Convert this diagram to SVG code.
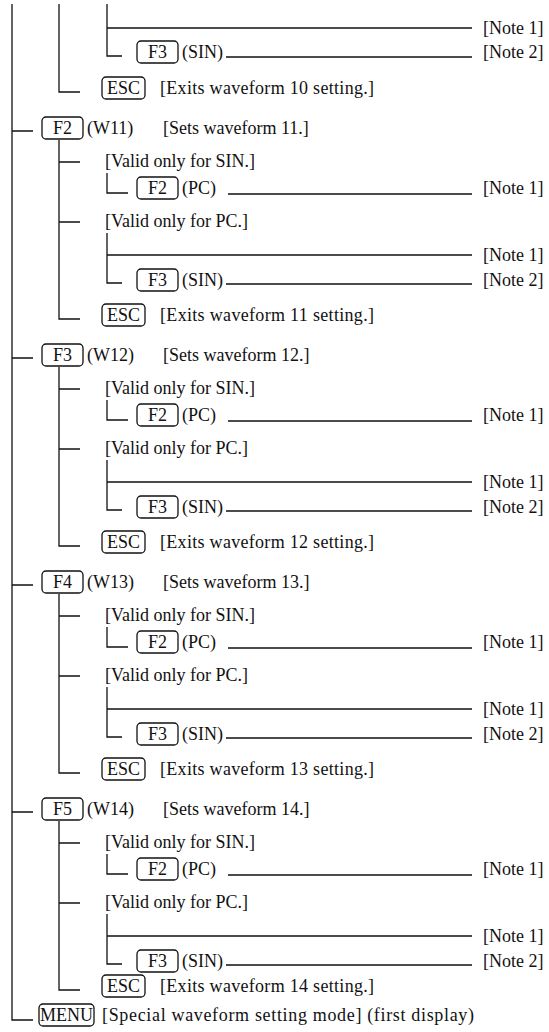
<svg xmlns="http://www.w3.org/2000/svg" width="549" height="1032" viewBox="0 0 549 1032">
<style>
.c{fill:none;stroke:#111;stroke-width:1.3}
.k{fill:#fff;stroke:#111;stroke-width:1.3}
text{font-family:"Liberation Serif","Times New Roman",serif;font-size:18px;fill:#111}
.m{text-anchor:middle}
</style>
<rect width="549" height="1032" fill="#fff"/>
<g id="connectors" class="c">
<path d="M12,4 V1020 H33"/>
<path d="M59,4 V92 H80"/>
<path d="M107,4 V56 H122 M107,28 H472 M226,57 H472"/>
<path d="M12,131 H33 M59,140 V319 H80 M59,162 H80 M59,222 H80 M107,173 V193 H128 M228,194 H472 M107,233 V283 H122 M107,255 H472 M226,284 H472"/>
<path d="M12,358 H33 M59,367 V546 H80 M59,389 H80 M59,449 H80 M107,400 V420 H128 M228,421 H472 M107,460 V510 H122 M107,482 H472 M226,511 H472"/>
<path d="M12,585 H33 M59,594 V773 H80 M59,616 H80 M59,676 H80 M107,627 V647 H128 M228,648 H472 M107,687 V737 H122 M107,709 H472 M226,738 H472"/>
<path d="M12,812 H33 M59,821 V990 H80 M59,843 H80 M59,903 H80 M107,854 V874 H128 M228,875 H472 M107,914 V964 H122 M107,936 H472 M226,965 H472"/>
</g>
<g id="top">
<text x="483" y="34">[Note 1]</text>
<rect class="k" x="137" y="41" width="41" height="22" rx="4"/><text class="m" x="157.5" y="58">F3</text>
<text x="182" y="58">(SIN)</text><text x="483" y="58">[Note 2]</text>
<rect class="k" x="102" y="77" width="43" height="22" rx="4"/><text class="m" x="123.5" y="94">ESC</text>
<text x="160" y="94" textLength="214">[Exits waveform 10 setting.]</text>
</g>
<g id="w11">
<rect class="k" x="42" y="117" width="41" height="22" rx="4"/><text class="m" x="62.5" y="134">F2</text>
<text x="87" y="134">(W11)</text><text x="163" y="134">[Sets waveform 11.]</text>
<text x="105" y="167">[Valid only for SIN.]</text>
<rect class="k" x="137" y="177" width="41" height="22" rx="4"/><text class="m" x="157.5" y="194">F2</text>
<text x="182" y="194">(PC)</text><text x="483" y="194">[Note 1]</text>
<text x="105" y="227">[Valid only for PC.]</text>
<text x="483" y="261">[Note 1]</text>
<rect class="k" x="137" y="269" width="41" height="22" rx="4"/><text class="m" x="157.5" y="286">F3</text>
<text x="182" y="286">(SIN)</text><text x="483" y="286">[Note 2]</text>
<rect class="k" x="102" y="304" width="43" height="22" rx="4"/><text class="m" x="123.5" y="321">ESC</text>
<text x="160" y="321" textLength="214">[Exits waveform 11 setting.]</text>
</g>
<g id="w12">
<rect class="k" x="42" y="344" width="41" height="22" rx="4"/><text class="m" x="62.5" y="361">F3</text>
<text x="87" y="361">(W12)</text><text x="163" y="361">[Sets waveform 12.]</text>
<text x="105" y="394">[Valid only for SIN.]</text>
<rect class="k" x="137" y="404" width="41" height="22" rx="4"/><text class="m" x="157.5" y="421">F2</text>
<text x="182" y="421">(PC)</text><text x="483" y="421">[Note 1]</text>
<text x="105" y="454">[Valid only for PC.]</text>
<text x="483" y="488">[Note 1]</text>
<rect class="k" x="137" y="496" width="41" height="22" rx="4"/><text class="m" x="157.5" y="513">F3</text>
<text x="182" y="513">(SIN)</text><text x="483" y="513">[Note 2]</text>
<rect class="k" x="102" y="531" width="43" height="22" rx="4"/><text class="m" x="123.5" y="548">ESC</text>
<text x="160" y="548" textLength="214">[Exits waveform 12 setting.]</text>
</g>
<g id="w13">
<rect class="k" x="42" y="571" width="41" height="22" rx="4"/><text class="m" x="62.5" y="588">F4</text>
<text x="87" y="588">(W13)</text><text x="163" y="588">[Sets waveform 13.]</text>
<text x="105" y="621">[Valid only for SIN.]</text>
<rect class="k" x="137" y="631" width="41" height="22" rx="4"/><text class="m" x="157.5" y="648">F2</text>
<text x="182" y="648">(PC)</text><text x="483" y="648">[Note 1]</text>
<text x="105" y="681">[Valid only for PC.]</text>
<text x="483" y="715">[Note 1]</text>
<rect class="k" x="137" y="723" width="41" height="22" rx="4"/><text class="m" x="157.5" y="740">F3</text>
<text x="182" y="740">(SIN)</text><text x="483" y="740">[Note 2]</text>
<rect class="k" x="102" y="758" width="43" height="22" rx="4"/><text class="m" x="123.5" y="775">ESC</text>
<text x="160" y="775" textLength="214">[Exits waveform 13 setting.]</text>
</g>
<g id="w14">
<rect class="k" x="42" y="798" width="41" height="22" rx="4"/><text class="m" x="62.5" y="815">F5</text>
<text x="87" y="815">(W14)</text><text x="163" y="815">[Sets waveform 14.]</text>
<text x="105" y="848">[Valid only for SIN.]</text>
<rect class="k" x="137" y="858" width="41" height="22" rx="4"/><text class="m" x="157.5" y="875">F2</text>
<text x="182" y="875">(PC)</text><text x="483" y="875">[Note 1]</text>
<text x="105" y="908">[Valid only for PC.]</text>
<text x="483" y="942">[Note 1]</text>
<rect class="k" x="137" y="950" width="41" height="22" rx="4"/><text class="m" x="157.5" y="967">F3</text>
<text x="182" y="967">(SIN)</text><text x="483" y="967">[Note 2]</text>
<rect class="k" x="102" y="975" width="43" height="22" rx="4"/><text class="m" x="123.5" y="992">ESC</text>
<text x="160" y="992" textLength="214">[Exits waveform 14 setting.]</text>
</g>
<g id="menu">
<rect class="k" x="39" y="1004" width="55" height="22" rx="4"/><text class="m" x="66.5" y="1021">MENU</text>
<text x="102" y="1021" textLength="372">[Special waveform setting mode] (first display)</text>
</g>
</svg>
